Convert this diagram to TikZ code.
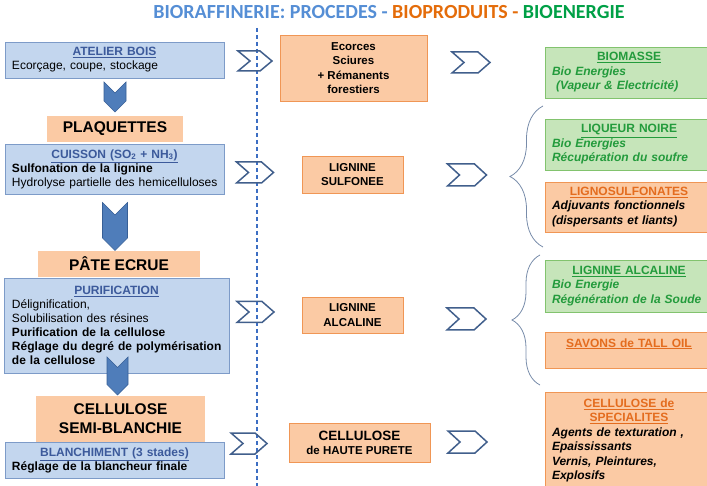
\documentclass[tikz,border=0pt]{standalone}
\usepackage{fontspec}
\setmainfont{Liberation Sans}
\newfontfamily\titlefont{Carlito}
\usetikzlibrary{decorations.pathreplacing}

\definecolor{procfill}{RGB}{195,214,238}
\definecolor{procline}{RGB}{125,155,200}
\definecolor{prodfill}{RGB}{251,202,164}
\definecolor{prodline}{RGB}{240,150,85}
\definecolor{enerfill}{RGB}{198,229,186}
\definecolor{enerline}{RGB}{130,195,110}
\definecolor{enertext}{RGB}{35,155,60}
\definecolor{orangetext}{RGB}{228,108,30}
\definecolor{headblue}{RGB}{60,90,155}
\definecolor{chevline}{RGB}{65,95,140}
\definecolor{arrowfill}{RGB}{79,125,186}
\definecolor{arrowline}{RGB}{55,95,150}
\definecolor{sepcolor}{RGB}{60,110,195}
\definecolor{bracecolor}{RGB}{120,140,170}
\definecolor{titleblue}{RGB}{85,142,213}
\definecolor{titleorange}{RGB}{228,108,10}
\definecolor{titlegreen}{RGB}{0,160,70}

\newcommand{\boxline}[1]{\makebox[\linewidth][l]{#1}}
\newcommand{\prochead}[1]{\textcolor{headblue}{\bfseries\underline{#1}}}
\newcommand{\enerhead}[1]{{\upshape\underline{#1}}}
\newcommand{\orghead}[1]{\textcolor{orangetext}{\upshape\underline{#1}}}
% chevron: name, x, y, half length, half height
\newcommand{\chevron}[5]{%
  \coordinate (#1) at (#2,#3);
  \draw[flowarrow, shift={(#1)}] (-#4,-#5) -- (#4-12,-#5) -- (#4,0)
    -- (#4-12,#5) -- (-#4,#5) -- (-#4+12,0) -- cycle;}
% down arrow: name, x, y, half width, half height
\newcommand{\downchevron}[5]{%
  \coordinate (#1) at (#2,#3);
  \draw[downarrow, shift={(#1)}] (-#4,-#5) -- (0,-#5+#4) -- (#4,-#5)
    -- (#4,#5-#4) -- (0,#5) -- (-#4,#5-#4) -- cycle;}

\begin{document}
\begin{tikzpicture}[x=1pt, y=-1pt,
  procbox/.style={rectangle, draw=procline, fill=procfill, line width=0.8pt,
    inner sep=0pt, align=center, font=\fontsize{12}{14}\selectfont},
  stagebox/.style={rectangle, fill=prodfill, inner sep=0pt, align=center,
    font=\bfseries\fontsize{15.5}{19}\selectfont},
  outbox/.style={rectangle, draw=prodline, fill=prodfill, line width=0.8pt,
    inner sep=0pt, align=center, font=\bfseries\fontsize{11.5}{14.3}\selectfont},
  energybox/.style={rectangle, draw=enerline, fill=enerfill, line width=0.8pt,
    inner sep=0pt, minimum width=168, text width=154, align=center,
    text=enertext, font=\bfseries\itshape\fontsize{12}{14.5}\selectfont},
  productbox/.style={rectangle, draw=prodline, fill=prodfill, line width=0.8pt,
    inner sep=0pt, minimum width=168, text width=154, align=center,
    font=\bfseries\itshape\fontsize{12}{14.5}\selectfont},
  flowarrow/.style={draw=chevline, line width=1.5pt, line join=miter},
  downarrow/.style={fill=arrowfill, draw=arrowline, line width=0.6pt},
  sepline/.style={draw=sepcolor, dash pattern=on 4pt off 3pt, line width=1.1pt},
  bracestyle/.style={draw=bracecolor, line width=0.8pt, decorate},
]
\useasboundingbox (0,0) rectangle (707,486);

% Title
\node[font=\titlefont\bfseries\fontsize{20}{24}\selectfont] (title) at (389,12)
  {\textcolor{titleblue}{BIORAFFINERIE: PROCEDES -}
   \textcolor{titleorange}{BIOPRODUITS -}
   \textcolor{titlegreen}{BIOENERGIE}};

% Separation line
\coordinate (septop) at (257,28);
\coordinate (sepbot) at (257,486);
\draw[sepline] (septop) -- (sepbot);

% Process column
\node[procbox, minimum width=219, minimum height=36, text width=205] (atelier)
  at (114.5,60)
  {\prochead{ATELIER BOIS}\\ \boxline{Ecorçage, coupe, stockage}};
\downchevron{down1}{115}{97}{11}{15}
\node[stagebox, minimum width=136, minimum height=26] (plaquettes) at (115,129)
  {PLAQUETTES};
\node[procbox, minimum width=219, minimum height=50, text width=205] (cuisson)
  at (114.5,169)
  {\prochead{CUISSON (SO\textsubscript{2} + NH\textsubscript{3})}\\
   \boxline{\bfseries Sulfonation de la lignine}\\
   \boxline{Hydrolyse partielle des hemicelluloses}};
\downchevron{down2}{115}{226.5}{12.5}{24}
\node[stagebox, minimum width=162, minimum height=26] (pate) at (119,264)
  {PÂTE ECRUE};
\node[procbox, minimum width=225, minimum height=95, text width=209] (purif)
  at (116.5,325.5)
  {\prochead{PURIFICATION}\\
   \boxline{Délignification,}\\
   \boxline{Solubilisation des résines}\\
   \boxline{\bfseries Purification de la cellulose}\\
   \boxline{\bfseries Réglage du degré de polymérisation}\\
   \boxline{\bfseries de la cellulose}};
\downchevron{down3}{117.5}{376}{10.5}{19}
\node[stagebox, minimum width=169, minimum height=46] (semiblanchie) at (120.5,419)
  {CELLULOSE\\ SEMI-BLANCHIE};
\node[procbox, minimum width=219, minimum height=36, text width=205] (blanchiment)
  at (114.5,460)
  {\prochead{BLANCHIMENT (3 stades)}\\
   \boxline{\bfseries Réglage de la blancheur finale}};

% Chevrons to the by-products
\chevron{chev1}{255}{61}{17}{10}
\chevron{chev2}{255}{172.5}{18.5}{10.5}
\chevron{chev3}{255.5}{312}{18.5}{10.5}
\chevron{chev4}{249}{443.5}{18}{10.5}

% By-products
\node[outbox, minimum width=147, minimum height=66] (ecorces) at (353.5,68)
  {Ecorces\\ Sciures\\ + Rémanents\\ forestiers};
\node[outbox, minimum width=101, minimum height=37] (sulfonee) at (352.5,174.5)
  {LIGNINE\\ SULFONEE};
\node[outbox, minimum width=101, minimum height=36] (alcaline) at (352.5,315)
  {LIGNINE\\ ALCALINE};
\node[outbox, minimum width=141, minimum height=39] (purete) at (359.5,442.5)
  {{\fontsize{13.5}{16}\selectfont CELLULOSE}\\ de HAUTE PURETE};

% Chevrons to the uses
\chevron{chev5}{471}{62.5}{19}{10.5}
\chevron{chev6}{467}{175}{19.5}{11}
\chevron{chev7}{466.5}{319}{19.5}{11}
\chevron{chev8}{467.5}{442}{19.5}{11}

% Uses
\node[energybox, minimum height=51] (biomasse) at (629,72.5)
  {\enerhead{BIOMASSE}\\ \boxline{Bio Energies}\\
   \boxline{\ (Vapeur \& Electricité)}};
\node[energybox, minimum height=51] (liqueur) at (629,144.5)
  {\enerhead{LIQUEUR NOIRE}\\ \boxline{Bio Energies}\\
   \boxline{Récupération du soufre}};
\node[productbox, minimum height=50] (lignosulf) at (629,207)
  {\orghead{LIGNOSULFONATES}\\ \boxline{Adjuvants fonctionnels}\\
   \boxline{(dispersants et liants)}};
\node[energybox, minimum height=52] (lignalc) at (629,286)
  {\enerhead{LIGNINE ALCALINE}\\ \boxline{Bio Energie}\\
   \boxline{Régénération de la Soude}};
\node[productbox, minimum height=36] (savons) at (629,350)
  {\orghead{SAVONS de TALL OIL}\\ \mbox{}};
\node[productbox, minimum height=97] (specialites) at (629,440.5)
  {\orghead{CELLULOSE de}\\ \orghead{SPECIALITES}\\
   \boxline{Agents de texturation ,}\\ \boxline{Epaississants}\\
   \boxline{Vernis, Pleintures,}\\ \boxline{Explosifs}};

% Braces
\coordinate (brace1top) at (543,106);
\coordinate (brace1bot) at (543,247);
\coordinate (brace2top) at (540,255);
\coordinate (brace2bot) at (540,385);
\draw[bracestyle, decoration={brace, amplitude=33pt}] (brace1bot) -- (brace1top);
\draw[bracestyle, decoration={brace, amplitude=28pt}] (brace2bot) -- (brace2top);
\end{tikzpicture}
\end{document}
